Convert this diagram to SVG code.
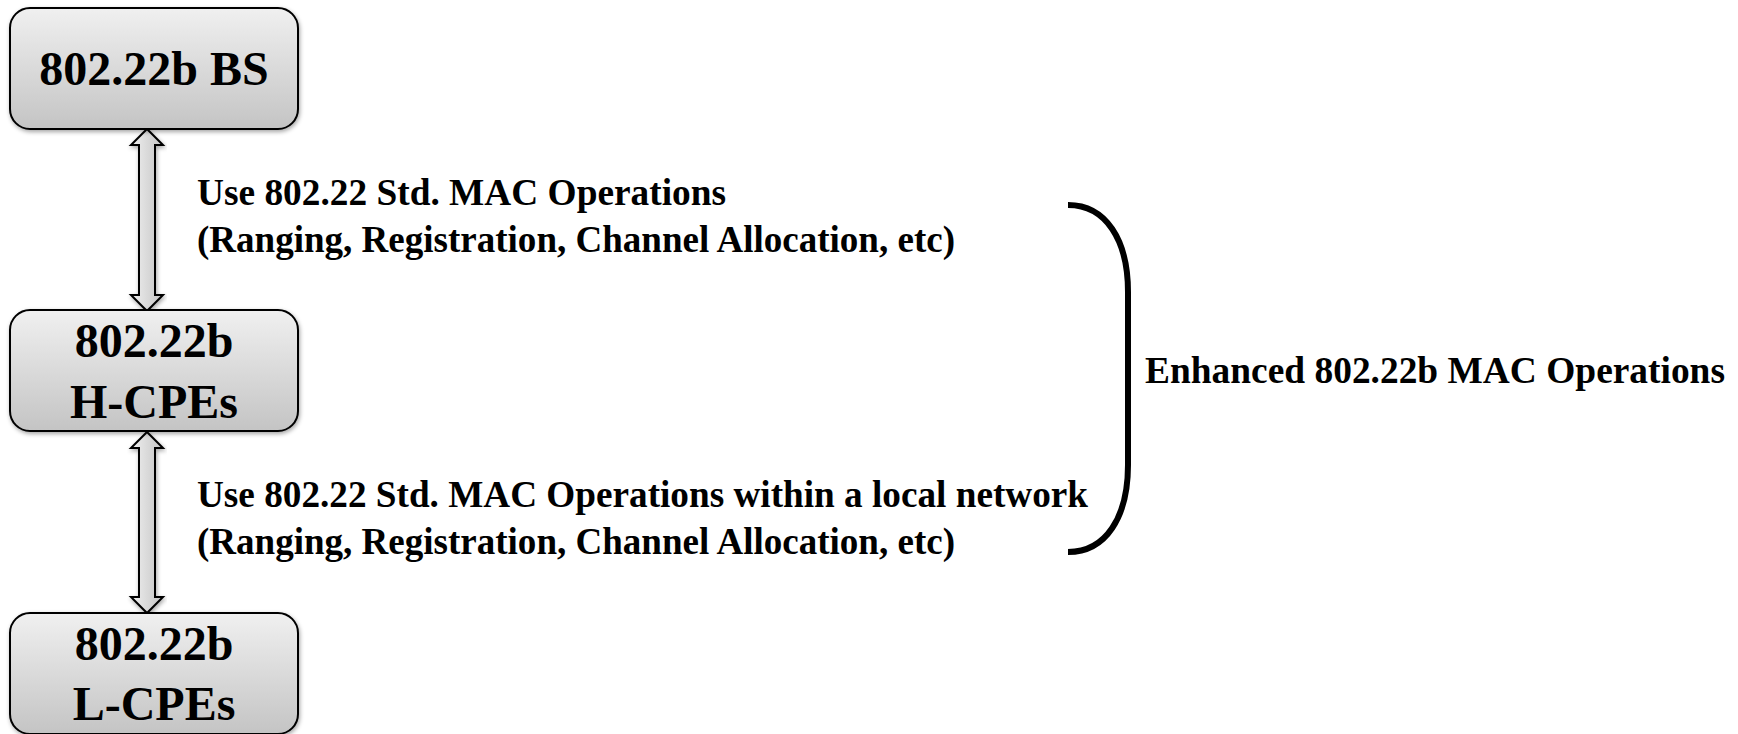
<svg xmlns="http://www.w3.org/2000/svg" width="1738" height="734" viewBox="0 0 1738 734">
<style>
.box{fill:url(#g);stroke:#000;stroke-width:2;filter:url(#sh)}
.arr{fill:url(#ga);stroke:#000;stroke-width:2;stroke-linejoin:miter;filter:url(#sh)}
.bt{font-family:"Liberation Serif","Times New Roman",serif;font-weight:bold;font-size:48px;fill:#000;text-anchor:middle}
.lt{font-family:"Liberation Serif","Times New Roman",serif;font-weight:bold;font-size:37px;fill:#000}
.br{fill:none;stroke:#000;stroke-width:6}
</style>
<defs>
<linearGradient id="g" x1="0" y1="0" x2="0" y2="1">
<stop offset="0" stop-color="#f0f0f0"/>
<stop offset="1" stop-color="#c4c4c4"/>
</linearGradient>
<linearGradient id="ga" x1="0" y1="0" x2="1" y2="0">
<stop offset="0" stop-color="#f0f0f0"/>
<stop offset="1" stop-color="#c4c4c4"/>
</linearGradient>
<filter id="sh" x="-10%" y="-10%" width="120%" height="120%">
<feDropShadow dx="1" dy="2" stdDeviation="2" flood-color="#000" flood-opacity="0.35"/>
</filter>
</defs>
<rect width="1738" height="734" fill="#fff"/>
<g id="connectors">
<path class="arr" d="M147,129 L163,145 L155,145 L155,295 L163,295 L147,311 L131,295 L139,295 L139,145 L131,145 Z"/>
<path class="arr" d="M147,432 L163,448 L155,448 L155,597 L163,597 L147,613 L131,597 L139,597 L139,448 L131,448 Z"/>
</g>
<g id="node-bs">
<rect class="box" x="10" y="8" width="288" height="121" rx="20"/>
<text class="bt" x="154" y="85">802.22b BS</text>
</g>
<g id="node-hcpe">
<rect class="box" x="10" y="310" width="288" height="121" rx="20"/>
<text class="bt" x="154" y="357">802.22b</text>
<text class="bt" x="154" y="418">H-CPEs</text>
</g>
<g id="node-lcpe">
<rect class="box" x="10" y="613" width="288" height="121" rx="20"/>
<text class="bt" x="154" y="660">802.22b</text>
<text class="bt" x="154" y="720">L-CPEs</text>
</g>
<g id="labels">
<text class="lt" x="197" y="205" textLength="529" lengthAdjust="spacingAndGlyphs">Use 802.22 Std. MAC Operations</text>
<text class="lt" x="197" y="252" textLength="758" lengthAdjust="spacingAndGlyphs">(Ranging, Registration, Channel Allocation, etc)</text>
<text class="lt" x="197" y="507" textLength="891" lengthAdjust="spacingAndGlyphs">Use 802.22 Std. MAC Operations within a local network</text>
<text class="lt" x="197" y="554" textLength="758" lengthAdjust="spacingAndGlyphs">(Ranging, Registration, Channel Allocation, etc)</text>
</g>
<g id="bracket">
<path class="br" d="M1068,205 C1106,205 1128,240 1128,292 L1128,465 C1128,517 1106,552 1068,552"/>
<text class="lt" x="1145" y="383" textLength="580" lengthAdjust="spacingAndGlyphs">Enhanced 802.22b MAC Operations</text>
</g>
</svg>
